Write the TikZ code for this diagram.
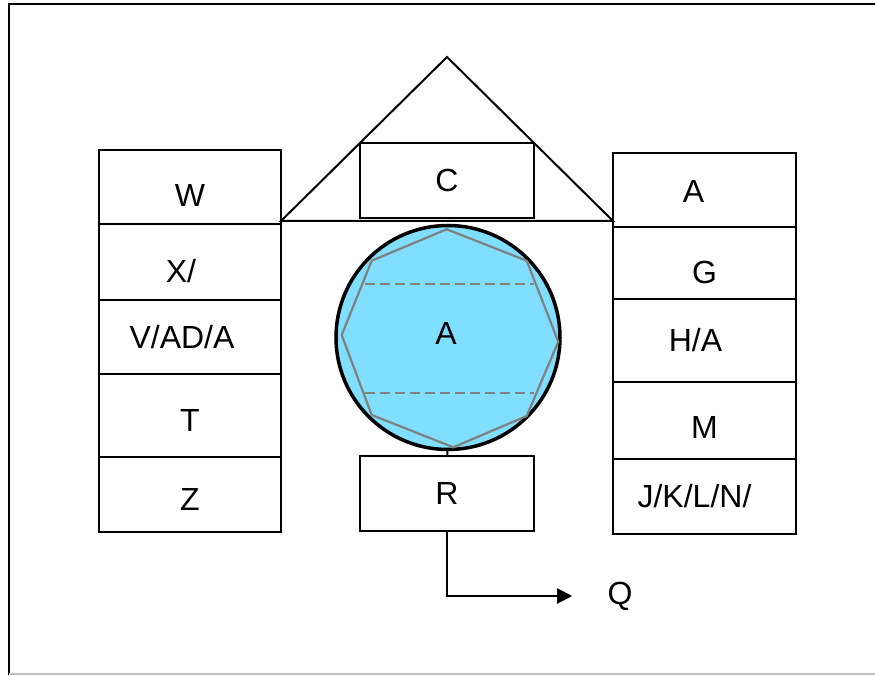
\documentclass[tikz,border=0pt]{standalone}
\usepackage{fontspec}
\setmainfont{Liberation Sans}
\usetikzlibrary{positioning,arrows.meta}
\definecolor{coreblue}{RGB}{128,223,255}

\begin{document}
\begin{tikzpicture}[x=1pt, y=1pt, line width=2pt,
  every node/.style={font=\fontsize{32}{38}\selectfont},
  cell/.style={draw, rectangle, outer sep=0pt, inner sep=0pt},
  lcell/.style={cell, minimum width=182pt},
  rcell/.style={cell, minimum width=183pt},
  mbox/.style={cell, minimum width=174pt, minimum height=75pt},
  hidden/.style={gray, line width=2.2pt}]
  \useasboundingbox (0,0) rectangle (875,675);
  \draw [line width=2pt] (9,0) -- (9,671) -- (875,671);
  \draw [black!25, line width=1.2pt] (9,1) -- (875,1);

  % left column
  \node (w) [lcell, minimum height=74pt, label={[yshift=-8pt]center:W}] at (190,488) {};
  \node (x) [lcell, minimum height=76pt, below=0pt of w, label={[xshift=-9pt, yshift=-9pt]center:X/}] {};
  \node (vada) [lcell, minimum height=74pt, below=0pt of x, label={[xshift=-8pt]center:V/AD/A}] {};
  \node (t) [lcell, minimum height=83pt, below=0pt of vada, label={[yshift=-5pt]center:T}] {};
  \node (z) [lcell, minimum height=75pt, below=0pt of t, label={[yshift=-5pt]center:Z}] {};

  % right column
  \node (a) [rcell, minimum height=74pt, label={[xshift=-11pt, yshift=-1pt]center:A}] at (704.5,485) {};
  \node (g) [rcell, minimum height=72pt, below=0pt of a, label={[yshift=-9pt]center:G}] {};
  \node (ha) [rcell, minimum height=83pt, below=0pt of g, label={[xshift=-9pt]center:H/A}] {};
  \node (m) [rcell, minimum height=77pt, below=0pt of ha, label={[yshift=-7pt]center:M}] {};
  \node (jkln) [rcell, minimum height=75pt, below=0pt of m, label={[xshift=-10pt]center:J/K/L/N/}] {};

  % roof
  \coordinate (apex) at (447,618);
  \coordinate (eaveL) at (281,454);
  \coordinate (eaveR) at (613,454);
  \draw (eaveL) -- (apex) -- (eaveR) -- cycle;
  \node (c) [mbox] at (447,494.5) {C};

  % core
  \node (core) [circle, draw, line width=3.5pt, fill=coreblue, inner sep=0pt,
    minimum size=224pt, label={[xshift=-2pt, yshift=4pt]center:A}] at (448,337.5) {};
  \draw [hidden] (446.7,445.7) -- (371.7,414.3) -- (341.7,340) -- (371.7,260)
    -- (453.3,227.7) -- (526.7,259) -- (558.3,333.3) -- (526.7,414.3) -- cycle;
  \draw [hidden, dash pattern=on 10pt off 5pt] (365,391) -- (534,391);
  \draw [hidden, dash pattern=on 10pt off 5pt] (365,282.3) -- (534,282.3);

  \node (r) [mbox] at (447,181.5) {R};
  \node (q) at (620,79) {Q};

  \draw (core) -- (r);
  \draw [-{Triangle[length=15pt, width=15pt]}, shorten >=31pt] (r) |- (q);
\end{tikzpicture}
\end{document}
